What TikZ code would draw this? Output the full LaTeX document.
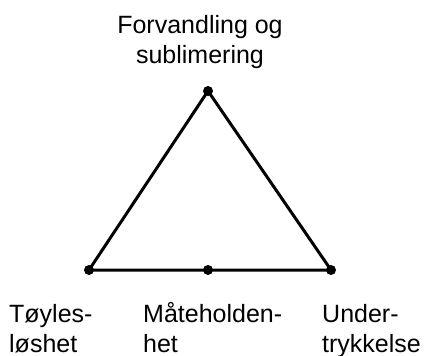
\documentclass[tikz,border=0pt]{standalone}
\usepackage{fontspec}
\setmainfont{Liberation Sans}
\usetikzlibrary{positioning}
\tikzset{
  dot/.style={circle, fill=black, inner sep=0pt, minimum size=10bp},
  edge/.style={line width=3bp, draw=black},
  lbl/.style={inner sep=0pt, font=\fontsize{25bp}{30bp}\selectfont},
}

\begin{document}
\begin{tikzpicture}[x=1bp, y=-1bp]
  \useasboundingbox (0,0) rectangle (430,356);
  \node[dot] (top) at (208,91) {};
  \node[dot] (lft) at (89,270) {};
  \node[dot] (rgt) at (331,270) {};
  \node[dot] (mid) at (208,270) {};
  \draw[edge] (top.center) -- (lft.center) -- (mid.center) -- (rgt.center) -- cycle;
  % labels
  \node[lbl, align=center, anchor=base] (ltop) at (200,63) {Forvandling og\\sublimering};
  \node[lbl, align=left, anchor=base west] (llft) at (9,352) {Tøyles-\\løshet};
  \node[lbl, align=left, anchor=base west] (lmid) at (143,352) {Måteholden-\\het};
  \node[lbl, align=left, anchor=base west] (lrgt) at (322,352) {Under-\\trykkelse};
\end{tikzpicture}
\end{document}
